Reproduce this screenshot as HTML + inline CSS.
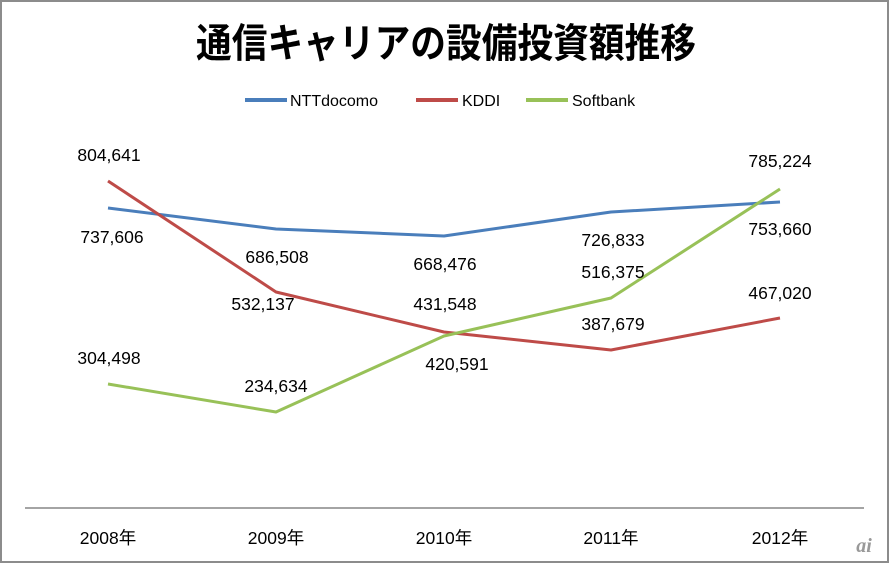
<!DOCTYPE html>
<html><head><meta charset="utf-8"><style>
html,body{margin:0;padding:0;background:#fff}
svg{display:block}
</style></head><body>
<svg width="889" height="563" viewBox="0 0 889 563" xmlns="http://www.w3.org/2000/svg">
<rect x="1" y="1" width="887" height="561" fill="#fff" stroke="#8c8c8c" stroke-width="2"/>
<text x="0" y="0" transform="translate(446,57) scale(0.94,1.05)" text-anchor="middle" font-family="'Noto Sans CJK JP',sans-serif" font-weight="bold" font-size="38" fill="#000">通信キャリアの設備投資額推移</text>
<g font-family="'Liberation Sans','Noto Sans CJK JP',sans-serif" font-size="16" fill="#000">
<line x1="245" y1="100" x2="287" y2="100" stroke="#4a7ebb" stroke-width="4"/>
<text x="290" y="106">NTTdocomo</text>
<line x1="416" y1="100" x2="458" y2="100" stroke="#be4b48" stroke-width="4"/>
<text x="462" y="106">KDDI</text>
<line x1="526" y1="100" x2="568" y2="100" stroke="#98c158" stroke-width="4"/>
<text x="572" y="106">Softbank</text>
</g>
<line x1="25" y1="508" x2="864" y2="508" stroke="#868686" stroke-width="1.5"/>
<g fill="none" stroke-width="3" stroke-linejoin="round">
<polyline stroke="#4a7ebb" points="108,208 276,229 444,236 611,212 780,202"/>
<polyline stroke="#be4b48" points="108,181 276,292 444,332 611,350 780,318"/>
<polyline stroke="#98c158" points="108,384 276,412 444,336 611,298 780,189"/>
</g>
<g font-family="'Liberation Sans','Noto Sans CJK JP',sans-serif" font-size="17.5" fill="#000" text-anchor="middle">
<text x="109" y="161">804,641</text>
<text x="112" y="243">737,606</text>
<text x="277" y="263">686,508</text>
<text x="263" y="310">532,137</text>
<text x="445" y="270">668,476</text>
<text x="445" y="310">431,548</text>
<text x="457" y="370">420,591</text>
<text x="613" y="246">726,833</text>
<text x="613" y="278">516,375</text>
<text x="613" y="330">387,679</text>
<text x="780" y="167">785,224</text>
<text x="780" y="235">753,660</text>
<text x="780" y="299">467,020</text>
<text x="109" y="364">304,498</text>
<text x="276" y="392">234,634</text>
<text x="108" y="544">2008年</text>
<text x="276" y="544">2009年</text>
<text x="444" y="544">2010年</text>
<text x="611" y="544">2011年</text>
<text x="780" y="544">2012年</text>
</g>
<text x="864" y="552" text-anchor="middle" font-family="'Liberation Serif',serif" font-style="italic" font-weight="bold" font-size="20" fill="#999">ai</text>
</svg>
</body></html>
